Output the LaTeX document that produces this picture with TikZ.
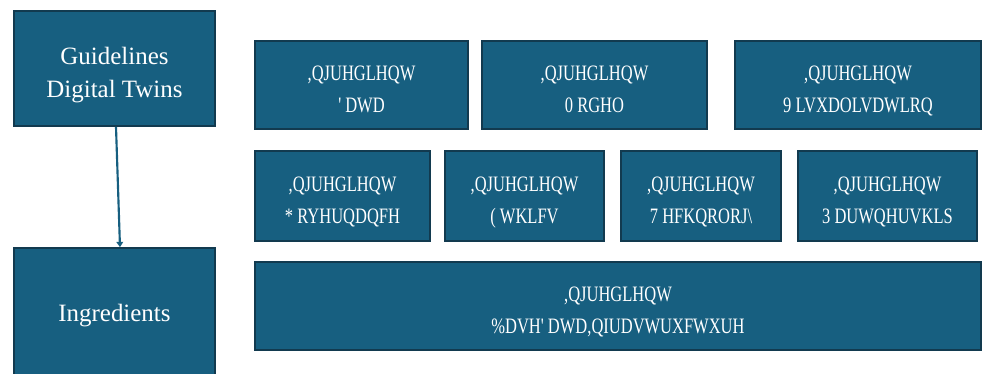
\documentclass[tikz,border=0pt]{standalone}
\usepackage{fontspec}
\setmainfont{Liberation Serif}
\newfontfamily\garbfont[FakeStretch=0.75]{Liberation Serif}
\usetikzlibrary{arrows.meta,positioning}
\definecolor{boxfill}{HTML}{175F80}
\definecolor{boxedge}{HTML}{123A4F}
\newdimen\pxu \pxu=0.75pt

\begin{document}
\begin{tikzpicture}[
  x=\pxu, y=-\pxu,
  every node/.style={text=white},
  block/.style={draw=boxedge, line width=1.2pt, fill=boxfill, inner sep=0pt,
                align=center, font=\fontsize{18.7}{24.75}\selectfont},
  ingbox/.style={block, minimum height=#1, text height=40.9pt, text depth=0pt,
                 font=\garbfont\fontsize{16.5}{24}\selectfont},
  arr/.style={-{Triangle[length=4pt,width=5pt]}, line width=1.6pt, draw=boxfill}
]
  \useasboundingbox (0,0) rectangle (982,374);
  % left column
  \node[block, minimum width=201\pxu, minimum height=115\pxu,
        text height=43pt, text depth=0pt] (guide) at (114.5,68.5) {Guidelines\\Digital Twins};
  \node[block, minimum width=201\pxu, minimum height=136\pxu] (ingr)  at (114.5,316) {Ingredients};
  % first row
  \node[ingbox=88\pxu, minimum width=213\pxu] (data) at (361.5,85) {,QJUHGLHQW\\' DWD};
  \node[ingbox=88\pxu, minimum width=225\pxu] (model) at (594.5,85) {,QJUHGLHQW\\0 RGHO};
  \node[ingbox=88\pxu, minimum width=246\pxu] (visu) at (858,85) {,QJUHGLHQW\\9 LVXDOLVDWLRQ};
  % second row
  \node[ingbox=90\pxu, minimum width=175\pxu] (gov) at (342.5,196) {,QJUHGLHQW\\* RYHUQDQFH};
  \node[ingbox=90\pxu, minimum width=159\pxu] (eth) at (524.5,196) {,QJUHGLHQW\\( WKLFV};
  \node[ingbox=90\pxu, minimum width=160\pxu] (tech) at (701,196) {,QJUHGLHQW\\7 HFKQRORJ\textbackslash};
  \node[ingbox=90\pxu, minimum width=179\pxu] (part) at (887.5,196) {,QJUHGLHQW\\3 DUWQHUVKLS};
  % base row
  \node[ingbox=88\pxu, minimum width=726\pxu] (base) at (618,306) {,QJUHGLHQW\\\%DVH' DWD,QIUDVWUXFWXUH};
  \draw[arr] ([xshift=1.5\pxu]guide.south) -- ([xshift=5.5\pxu]ingr.north);
\end{tikzpicture}
\end{document}
